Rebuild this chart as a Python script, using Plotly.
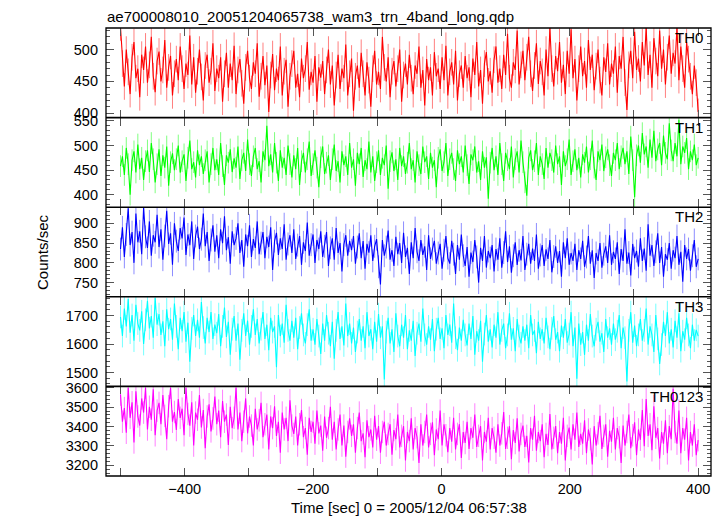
import plotly.graph_objects as go

# ---------------- data (3-s bins starting at -500 s) ----------------
T_START = -500
T_BIN = 3

TH0 = [535, 478, 442, 500, 465, 430, 488, 512, 455, 470, 425, 492, 468, 505, 448,
       476, 520, 458, 433, 482, 497, 450, 468, 515, 440, 472, 490, 428, 462, 485,
       452, 505, 470, 438, 478, 460, 522, 445, 488, 432, 466, 500, 457, 420, 475,
       492, 448, 466, 510, 435, 470, 455, 488, 418, 462, 495, 440, 478, 452, 506,
       430, 468, 485, 447, 415, 472, 498, 455, 438, 480, 462, 510, 426, 458, 490,
       444, 475, 402, 460, 493, 436, 470, 452, 505, 428, 466, 484, 410, 458, 478,
       498, 440, 462, 425, 486, 455, 470, 512, 437, 465, 448, 490, 418, 472, 456,
       482, 430, 468, 500, 445, 475, 412, 460, 492, 438, 470, 455, 508, 428, 462,
       486, 404, 458, 475, 440, 495, 462, 428, 480, 452, 410, 470, 498, 445, 465,
       438, 520, 472, 450, 488, 425, 466, 482, 442, 470, 500, 418, 460, 478, 445,
       492, 455, 430, 475, 462, 505, 440, 468, 412, 485, 452, 472, 428, 496, 458,
       470, 438, 488, 452, 506, 428, 465, 480, 445, 498, 420, 462, 475, 440, 490,
       455, 472, 425, 486, 460, 512, 442, 468, 415, 478, 496, 450, 466, 432, 484,
       505, 448, 470, 438, 492, 460, 525, 455, 440, 480, 468, 530, 445, 476, 498,
       452, 488, 520, 462, 435, 475, 510, 446, 482, 465, 428, 500, 458, 534, 470,
       442, 490, 466, 512, 448, 476, 430, 498, 462, 532, 455, 485, 420, 470, 505,
       458, 482, 440, 515, 468, 492, 436, 474, 500, 452, 428, 488, 465, 510, 445,
       478, 462, 505, 432, 490, 470, 520, 448, 405, 476, 498, 455, 528, 468, 486,
       450, 512, 475, 535, 460, 492, 440, 518, 482, 458, 530, 470, 500, 445, 488,
       522, 462, 495, 478, 535, 452, 505, 470, 440, 512, 485, 458, 430, 475, 448,
       402]

TH1 = [458, 478, 440, 495, 462, 400, 470, 488, 445, 502, 452, 475, 430, 468, 490,
       446, 505, 472, 425, 462, 492, 438, 480, 455, 498, 418, 466, 484, 450, 472,
       500, 445, 468, 482, 428, 475, 510, 452, 466, 435, 490, 460, 478, 442, 470,
       488, 425, 462, 495, 450, 472, 440, 505, 458, 420, 480, 465, 492, 446, 474,
       455, 498, 432, 470, 485, 448, 512, 462, 438, 478, 495, 452, 468, 425, 488,
       470, 540, 458, 482, 445, 505, 465, 428, 490, 455, 475, 440, 500, 462, 435,
       480, 452, 495, 420, 468, 485, 445, 472, 508, 438, 462, 490, 455, 415, 476,
       498, 442, 465, 480, 430, 472, 502, 448, 468, 425, 488, 460, 478, 440, 505,
       455, 472, 418, 485, 462, 495, 436, 470, 452, 508, 445, 478, 428, 466, 490,
       440, 475, 460, 500, 412, 468, 486, 448, 472, 430, 495, 458, 478, 442, 465,
       505, 452, 470, 425, 488, 460, 442, 498, 466, 478, 432, 485, 455, 470, 415,
       475, 492, 448, 466, 505, 438, 472, 485, 452, 428, 490, 462, 478, 445, 500,
       460, 422, 482, 470, 498, 445, 468, 430, 488, 455, 476, 392, 465, 495, 450,
       478, 440, 505, 462, 428, 485, 470, 452, 498, 435, 472, 488, 445, 510, 466,
       425, 398, 475, 490, 450, 468, 505, 440, 478, 462, 432, 495, 455, 485, 470,
       445, 500, 462, 478, 420, 488, 458, 472, 512, 440, 468, 492, 450, 475, 435,
       482, 465, 498, 445, 472, 510, 455, 430, 488, 470, 502, 448, 476, 492, 460,
       438, 485, 470, 505, 452, 478, 495, 462, 488, 442, 518, 470, 395, 480, 500,
       465, 525, 482, 498, 455, 512, 475, 530, 468, 492, 505, 460, 520, 485, 472,
       545, 490, 468, 505, 478, 552, 462, 498, 485, 515, 452, 488, 470, 502, 460,
       475]

TH2 = [835, 890, 815, 872, 938, 845, 878, 800, 925, 852, 880, 822, 940, 866, 838,
       905, 818, 870, 852, 922, 840, 885, 808, 868, 932, 848, 875, 795, 900, 855,
       830, 888, 862, 915, 820, 872, 845, 905, 810, 868, 892, 835, 860, 925, 842,
       878, 805, 858, 895, 828, 870, 812, 885, 850, 918, 832, 865, 798, 880, 845,
       862, 900, 825, 858, 790, 872, 842, 895, 815, 860, 838, 905, 822, 850, 878,
       812, 866, 840, 890, 782, 855, 876, 820, 862, 835, 898, 808, 848, 870, 825,
       885, 810, 845, 868, 795, 852, 830, 902, 818, 846, 872, 800, 858, 835, 880,
       815, 842, 878, 792, 838, 862, 808, 888, 825, 850, 778, 846, 870, 818, 856,
       832, 868, 798, 840, 875, 812, 855, 785, 848, 826, 870, 805, 842, 860, 790,
       745, 858, 818, 840, 882, 808, 832, 792, 866, 822, 850, 800, 876, 815, 838,
       772, 852, 812, 888, 828, 805, 858, 820, 842, 782, 870, 810, 835, 856, 798,
       825, 848, 785, 832, 868, 812, 798, 856, 822, 772, 845, 808, 872, 818, 792,
       840, 765, 826, 802, 858, 815, 750, 838, 805, 868, 788, 830, 812, 845, 778,
       835, 808, 862, 788, 826, 880, 802, 842, 775, 818, 852, 795, 832, 806, 868,
       782, 822, 848, 798, 836, 805, 872, 785, 820, 845, 792, 834, 810, 858, 776,
       816, 842, 800, 830, 765, 852, 812, 862, 795, 825, 805, 848, 782, 832, 810,
       856, 790, 815, 868, 798, 832, 762, 825, 805, 850, 788, 822, 842, 800, 870,
       795, 828, 810, 852, 772, 835, 805, 885, 798, 826, 768, 848, 812, 830, 790,
       862, 805, 836, 780, 898, 818, 845, 792, 828, 875, 800, 840, 765, 822, 808,
       850, 785, 832, 812, 868, 795, 828, 752, 845, 810, 835, 780, 818, 858, 790,
       810]

TH3 = [1695, 1628, 1725, 1662, 1758, 1640, 1702, 1612, 1738, 1672, 1648, 1715, 1600, 1685, 1752,
       1655, 1698, 1622, 1762, 1668, 1705, 1632, 1680, 1592, 1722, 1652, 1688, 1615, 1742, 1662,
       1582, 1692, 1645, 1712, 1608, 1675, 1538, 1655, 1702, 1628, 1685, 1622, 1748, 1658, 1602,
       1692, 1642, 1712, 1618, 1668, 1638, 1705, 1592, 1662, 1728, 1625, 1678, 1562, 1652, 1698,
       1612, 1672, 1545, 1648, 1708, 1628, 1682, 1598, 1662, 1722, 1632, 1688, 1602, 1652, 1712,
       1618, 1668, 1578, 1692, 1642, 1662, 1518, 1702, 1628, 1672, 1605, 1738, 1648, 1612, 1682,
       1622, 1692, 1582, 1658, 1708, 1632, 1602, 1668, 1722, 1612, 1652, 1598, 1688, 1628, 1565,
       1672, 1612, 1702, 1638, 1592, 1678, 1548, 1648, 1712, 1618, 1662, 1595, 1742, 1628, 1672,
       1602, 1658, 1572, 1642, 1688, 1612, 1662, 1585, 1712, 1628, 1652, 1582, 1678, 1608, 1705,
       1622, 1662, 1475, 1642, 1692, 1602, 1652, 1572, 1708, 1628, 1592, 1668, 1622, 1702, 1582,
       1648, 1612, 1682, 1558, 1638, 1672, 1608, 1725, 1632, 1598, 1662, 1615, 1688, 1575, 1652,
       1692, 1618, 1655, 1585, 1702, 1632, 1668, 1605, 1742, 1622, 1578, 1658, 1612, 1685, 1632,
       1595, 1672, 1618, 1698, 1562, 1645, 1612, 1682, 1538, 1635, 1702, 1608, 1652, 1588, 1668,
       1622, 1712, 1598, 1648, 1672, 1585, 1632, 1708, 1615, 1655, 1575, 1688, 1628, 1602, 1662,
       1612, 1668, 1585, 1702, 1632, 1648, 1568, 1678, 1618, 1652, 1602, 1692, 1625, 1582, 1655,
       1698, 1615, 1642, 1575, 1665, 1622, 1688, 1605, 1635, 1712, 1592, 1658, 1478, 1672, 1598,
       1642, 1562, 1668, 1612, 1705, 1628, 1592, 1652, 1678, 1608, 1638, 1572, 1688, 1622, 1655,
       1598, 1672, 1615, 1645, 1702, 1585, 1658, 1622, 1468, 1648, 1712, 1605, 1665, 1592, 1632,
       1688, 1612, 1648, 1725, 1598, 1662, 1632, 1572, 1702, 1618, 1530, 1598, 1678, 1628, 1712,
       1602, 1652, 1588, 1682, 1622, 1708, 1575, 1645, 1615, 1692, 1632, 1585, 1668, 1612, 1650,
       1628]

TH0123 = [3565, 3425, 3495, 3368, 3600, 3445, 3525, 3318, 3582, 3452, 3405, 3545, 3472, 3600, 3385,
          3502, 3435, 3592, 3355, 3482, 3522, 3412, 3562, 3455, 3335, 3505, 3600, 3425, 3475, 3382,
          3542, 3445, 3492, 3355, 3600, 3465, 3405, 3525, 3302, 3472, 3435, 3562, 3395, 3485, 3288,
          3452, 3515, 3375, 3442, 3555, 3412, 3482, 3345, 3532, 3425, 3462, 3305, 3502, 3392, 3445,
          3600, 3385, 3472, 3325, 3425, 3545, 3365, 3452, 3405, 3302, 3492, 3385, 3432, 3522, 3345,
          3412, 3462, 3282, 3452, 3392, 3505, 3352, 3425, 3265, 3472, 3385, 3445, 3325, 3535, 3405,
          3362, 3452, 3302, 3412, 3485, 3345, 3392, 3255, 3445, 3372, 3425, 3312, 3482, 3365, 3405,
          3275, 3452, 3342, 3392, 3502, 3332, 3425, 3282, 3385, 3462, 3302, 3405, 3245, 3372, 3442,
          3352, 3412, 3265, 3392, 3472, 3325, 3365, 3242, 3432, 3345, 3385, 3292, 3455, 3332, 3402,
          3265, 3372, 3425, 3302, 3362, 3412, 3255, 3382, 3335, 3462, 3292, 3352, 3402, 3225, 3372,
          3325, 3442, 3282, 3392, 3345, 3212, 3412, 3302, 3372, 3462, 3292, 3362, 3422, 3252, 3385,
          3335, 3482, 3302, 3412, 3355, 3268, 3392, 3322, 3445, 3282, 3362, 3412, 3238, 3372, 3315,
          3425, 3285, 3392, 3342, 3462, 3295, 3352, 3402, 3225, 3372, 3322, 3445, 3282, 3392, 3342,
          3265, 3412, 3302, 3365, 3475, 3285, 3342, 3402, 3232, 3382, 3315, 3442, 3272, 3362, 3405,
          3295, 3352, 3215, 3392, 3332, 3455, 3275, 3372, 3325, 3412, 3242, 3362, 3305, 3465, 3282,
          3342, 3402, 3262, 3372, 3312, 3445, 3225, 3352, 3395, 3282, 3412, 3332, 3472, 3295, 3362,
          3312, 3432, 3262, 3385, 3335, 3205, 3402, 3302, 3365, 3455, 3285, 3352, 3412, 3245, 3378,
          3322, 3445, 3282, 3392, 3345, 3212, 3405, 3302, 3372, 3462, 3288, 3355, 3422, 3252, 3385,
          3332, 3485, 3298, 3542, 3352, 3412, 3278, 3505, 3342, 3392, 3235, 3372, 3312, 3432, 3262,
          3402, 3335, 3595, 3372, 3312, 3482, 3262, 3392, 3332, 3445, 3225, 3372, 3302, 3412, 3252,
          3330]

# typical 1-sigma error of each band (counts/sec), shown as light error bars
ERRORS = [21, 22, 29, 40, 58]

SERIES = [TH0, TH1, TH2, TH3, TH0123]
NAMES = ["TH0", "TH1", "TH2", "TH3", "TH0123"]
COLORS = ["#ff0000", "#00ff00", "#0000ff", "#00ffff", "#ff00ff"]
ERR_COLORS = ["rgba(255,0,0,0.5)", "rgba(0,255,0,0.5)", "rgba(0,0,255,0.45)",
              "rgba(0,255,255,0.55)", "rgba(255,0,255,0.5)"]

Y_RANGES = [[393, 534], [374.6, 556.6], [714, 941], [1451, 1766], [3145, 3607]]
Y_TICKS = [[400, 450, 500], [400, 450, 500, 550], [750, 800, 850, 900],
           [1500, 1600, 1700], [3200, 3300, 3400, 3500, 3600]]
Y_MINOR = [10, 10, 10, 20, 20]

X_RANGE = [-522.6, 420]
X_TICKS = [-500, -400, -300, -200, -100, 0, 100, 200, 300, 400]
X_LABELS = ["", "\u2212400", "", "\u2212200", "", "0", "", "200", "", "400"]

TITLE = "ae700008010_20051204065738_wam3_trn_4band_long.qdp"
X_TITLE = "Time [sec] 0 = 2005/12/04 06:57:38"
Y_TITLE = "Counts/sec"

# ---------------- figure ----------------
# (the page body adds an 8 px margin, so the figure is 8 px smaller)
times = [T_START + i * T_BIN for i in range(len(TH0))]
FONT = "Liberation Sans, Arial, Helvetica, sans-serif"
PLOT_H = 448.0

fig = go.Figure()
n = len(SERIES)
layout = dict(
    width=716, height=508,
    margin=dict(l=98, r=13, t=20, b=40),
    paper_bgcolor="white", plot_bgcolor="white",
    showlegend=False,
    font=dict(family=FONT, size=14, color="black"),
)
annotations = []
shapes = [dict(type="rect", xref="paper", yref="paper", x0=0, x1=1, y0=0, y1=1,
               line=dict(color="black", width=1.3), layer="above")]
for i in range(n):
    r = i + 1
    sfx = "" if r == 1 else str(r)
    fig.add_trace(go.Scatter(
        x=times, y=SERIES[i], mode="lines",
        line=dict(color=COLORS[i], width=1.1),
        error_y=dict(type="constant", value=ERRORS[i], color=ERR_COLORS[i],
                     thickness=1, width=0),
        xaxis="x" + sfx, yaxis="y" + sfx, hoverinfo="skip"))
    top = 1 - i / n
    bot = 1 - (i + 1) / n
    layout["xaxis" + sfx] = dict(
        domain=[0, 1], anchor="y" + sfx, range=X_RANGE,
        tickmode="array", tickvals=X_TICKS,
        ticktext=X_LABELS, showticklabels=(r == n),
        ticks="inside", ticklen=8, tickwidth=1, tickcolor="#555",
        mirror="allticks", showline=False,
        showgrid=False, zeroline=False,
        tickfont=dict(size=14.5, family=FONT),
        ticklabelstandoff=2,
    )
    layout["yaxis" + sfx] = dict(
        domain=[bot, top], anchor="x" + sfx, range=Y_RANGES[i],
        tickmode="array", tickvals=Y_TICKS[i],
        ticks="inside", ticklen=8, tickwidth=1, tickcolor="#555",
        minor=dict(ticks="inside", ticklen=4, dtick=Y_MINOR[i],
                   tickcolor="#555", tickwidth=1, showgrid=False),
        mirror="allticks", showline=False,
        showgrid=False, zeroline=False,
        tickfont=dict(size=14.5, family=FONT),
        ticklabelstandoff=7,
    )
    if i > 0:
        shapes.append(dict(type="line", xref="paper", yref="paper", x0=0, x1=1,
                           y0=top, y1=top, line=dict(color="black", width=1.6),
                           layer="above"))
    annotations.append(dict(
        text=NAMES[i], xref="paper", yref="paper",
        x=0.99, y=top - 9.6 / PLOT_H, xanchor="right", yanchor="middle",
        showarrow=False, font=dict(size=15, family=FONT, color="black")))

annotations.append(dict(text=TITLE, xref="paper", yref="paper", x=0.0, y=1 + 12 / PLOT_H,
                        xanchor="left", yanchor="middle", showarrow=False, borderpad=0,
                        font=dict(size=15, family=FONT, color="black")))
annotations.append(dict(text=X_TITLE, xref="paper", yref="paper", x=0.5, y=-31 / PLOT_H,
                        xanchor="center", yanchor="middle", showarrow=False,
                        font=dict(size=15, family=FONT, color="black")))
annotations.append(dict(text=Y_TITLE, xref="paper", yref="paper", x=-64 / 605, y=0.5,
                        xanchor="center", yanchor="middle", textangle=-90, showarrow=False,
                        font=dict(size=15, family=FONT, color="black")))
layout["annotations"] = annotations
layout["shapes"] = shapes
fig.update_layout(**layout)
fig.write_html("out.html")
